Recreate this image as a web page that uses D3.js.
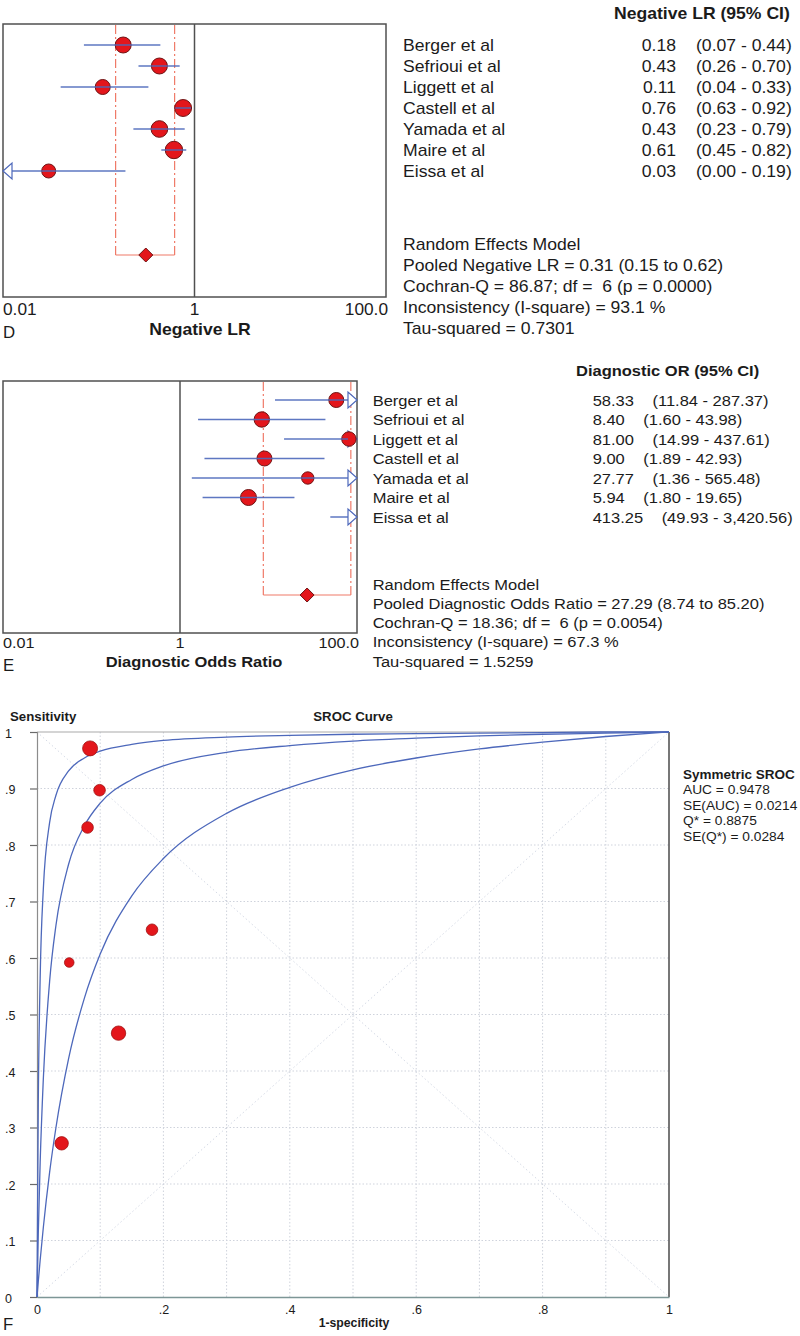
<!DOCTYPE html>
<html lang="en">
<head>
<meta charset="UTF-8">
<script src="https://d3js.org/d3.v7.min.js"></script>
<title>NLR / DOR forest plots and SROC</title>
<style>
  body { margin: 0; background: #fff; }
  svg text { font-family: "Liberation Sans", Arial, sans-serif; fill: #1b1b1b; white-space: pre; }
</style>
</head>
<body>
<svg id="chart" width="800" height="1336"></svg>
<script>
const studies = ["Berger et al", "Sefrioui et al", "Liggett et al", "Castell et al", "Yamada et al", "Maire et al", "Eissa et al"];

// D: negative likelihood ratio
const nlrEst = [0.18, 0.43, 0.11, 0.76, 0.43, 0.61, 0.03];
const nlrLow = [0.07, 0.26, 0.04, 0.63, 0.23, 0.45, 0.00];
const nlrHigh = [0.44, 0.70, 0.33, 0.92, 0.79, 0.82, 0.19];
const nlrWeight = [14.2, 14.2, 12.5, 16.0, 15.4, 16.8, 10.9];
const nlrPooled = [0.31, 0.15, 0.62];
const nlrHet = [86.87, 6, "0.0000", 93.1, 0.7301];

// E: diagnostic odds ratio
const dorEst = [58.33, 8.40, 81.00, 9.00, 27.77, 5.94, 413.25];
const dorLow = [11.84, 1.60, 14.99, 1.89, 1.36, 1.80, 49.93];
const dorHigh = [287.37, 43.98, 437.61, 42.93, 565.48, 19.65, 3420.56];
const dorWeight = [15.6, 16.4, 14.4, 15.6, 10.6, 17.7, 9.7];
const dorPooled = [27.29, 8.74, 85.20];
const dorHet = [18.36, 6, "0.0054", 67.3, 1.5259];

const logTicks = ["0.01", "1", "100.0"];

// F: SROC
const studyFpr = [0.084, 0.099, 0.080, 0.182, 0.051, 0.129, 0.039];
const studySens = [0.971, 0.897, 0.831, 0.650, 0.592, 0.467, 0.272];
const studyWeight = [20.3, 12.1, 12.1, 12.1, 8.3, 18.7, 16.2];
const curveFpr = [0, 0.002, 0.005, 0.01, 0.02, 0.03, 0.05, 0.075, 0.1, 0.15, 0.2, 0.3, 0.4, 0.5, 0.6, 0.7, 0.8, 0.9, 1];
const curveUpper = [0, 0.34, 0.564, 0.722, 0.840, 0.888, 0.931, 0.954, 0.966, 0.978, 0.985, 0.991, 0.994, 0.996, 0.997, 0.998, 0.999, 1.0, 1];
const curveSroc = [0, 0.111, 0.238, 0.386, 0.559, 0.658, 0.766, 0.834, 0.874, 0.916, 0.940, 0.964, 0.976, 0.984, 0.989, 0.993, 0.996, 0.998, 1];
const curveLower = [0, 0.027, 0.065, 0.123, 0.221, 0.300, 0.422, 0.529, 0.607, 0.710, 0.776, 0.856, 0.902, 0.933, 0.954, 0.970, 0.982, 0.992, 1];
const srocStats = ["AUC = 0.9478", "SE(AUC) = 0.0214", "Q* = 0.8875", "SE(Q*) = 0.0284"];

const svg = d3.select("#chart");
const RED = "#e3161b", RED_EDGE = "#6e1414", BLUE = "#4d68bb", SALMON = "#ef7a68";

// text helper, the source figure is slightly stretched horizontally
function label(sel, x, y, str, o = {}) {
	return sel.append("text")
		.attr("transform", `translate(${x},${y}) scale(${o.sx || 1.1},1)`)
		.attr("text-anchor", o.anchor || "start")
		.style("font-size", (o.size || 16) + "px")
		.style("font-weight", o.bold ? "bold" : "normal")
		.text(str);
}

function forest(c) {
	const g = svg.append("g");
	const x = d3.scaleLog().domain([0.01, 100]).range([c.left, c.right]);
	const y = d3.scaleLinear().domain([0, 1]).range([c.row0, c.row0 + c.step]);
	const r = d3.scaleSqrt().domain([0, d3.max(c.weight)]).range([0, c.maxR]);
	const clampX = v => x(Math.min(Math.max(v, 0.01), 100));
	const rows = studies.map((s, i) => ({name: s, est: c.est[i], low: c.low[i], high: c.high[i], w: c.weight[i], i: i}));

	g.append("rect")
		.attr("x", c.left).attr("y", c.top)
		.attr("width", c.right - c.left).attr("height", c.bottom - c.top)
		.attr("fill", "none").attr("stroke", "#505050").attr("stroke-width", 1.5);
	g.append("line")
		.attr("x1", x(1)).attr("x2", x(1)).attr("y1", c.top).attr("y2", c.bottom)
		.attr("stroke", "#505050").attr("stroke-width", 1.5);

	// pooled interval bracket
	const yp = y(10);
	[c.pooled[1], c.pooled[2]].forEach(v => {
		g.append("line")
			.attr("x1", x(v)).attr("x2", x(v)).attr("y1", c.top + 1).attr("y2", yp)
			.attr("stroke", SALMON).attr("stroke-width", 1.2)
			.attr("stroke-dasharray", "9,3,2,3");
	});
	g.append("line")
		.attr("x1", x(c.pooled[1])).attr("x2", x(c.pooled[2])).attr("y1", yp).attr("y2", yp)
		.attr("stroke", SALMON).attr("stroke-width", 1.2);

	// open arrows where the interval leaves the axis
	rows.forEach(d => {
		const yy = y(d.i);
		if (d.low < 0.01) {
			const x0 = x(0.01);
			g.append("path").attr("d", `M${x0},${yy}L${x0 + 9},${yy - 8}L${x0 + 9},${yy + 8}Z`)
				.attr("fill", "#fff").attr("stroke", BLUE).attr("stroke-width", 1.2);
		}
		if (d.high > 100) {
			const x1 = x(100);
			g.append("path").attr("d", `M${x1},${yy}L${x1 - 9},${yy - 8}L${x1 - 9},${yy + 8}Z`)
				.attr("fill", "#fff").attr("stroke", BLUE).attr("stroke-width", 1.2);
		}
	});

	g.selectAll(".pt").data(rows.filter(d => d.est >= 0.01 && d.est <= 100)).join("circle")
		.attr("cx", d => x(d.est)).attr("cy", d => y(d.i)).attr("r", d => r(d.w))
		.attr("fill", RED).attr("stroke", RED_EDGE).attr("stroke-width", 1);

	// whiskers, drawn over the markers
	g.selectAll(".ci").data(rows).join("line")
		.attr("x1", d => clampX(d.low) + (d.low < 0.01 ? 9 : 0))
		.attr("x2", d => clampX(d.high) - (d.high > 100 ? 9 : 0))
		.attr("y1", d => y(d.i)).attr("y2", d => y(d.i))
		.attr("stroke", BLUE).attr("stroke-width", 1.5).attr("stroke-opacity", 0.9);

	const dm = 7, px = x(c.pooled[0]);
	g.append("path")
		.attr("d", `M${px - dm},${yp}L${px},${yp - dm}L${px + dm},${yp}L${px},${yp + dm}Z`)
		.attr("fill", RED).attr("stroke", RED_EDGE).attr("stroke-width", 1);

	// axis labels
	label(g, x(0.01), c.tickY, logTicks[0], {size: c.fs, sx: 1.08});
	label(g, x(1), c.tickY, logTicks[1], {size: c.fs, sx: 1.08, anchor: "middle"});
	label(g, x(100) + 2, c.tickY, logTicks[2], {size: c.fs, sx: 1.08, anchor: "end"});
	label(g, c.titleX, c.titleY, c.title, {size: c.fs, bold: true, anchor: "middle"});
	label(g, 3, c.letterY, c.letter, {size: 16, sx: 1.05});

	// table on the right
	label(g, c.headX, c.headY, c.head, {size: c.fs, bold: true});
	rows.forEach(d => {
		const by = y(d.i) + 5.5;
		label(g, c.nameX, by, d.name, {size: c.fs});
		const v = label(g, c.valX, by, c.fmt(d.est), {size: c.fs, anchor: c.valAnchor});
		const ciText = `(${c.fmt(d.low)} - ${c.fmt(d.high)})`;
		if (c.ciX) {
			label(g, c.ciX, by, ciText, {size: c.fs});
		} else {
			const wv = v.node().getComputedTextLength() * 1.1;
			label(g, c.valX + wv + c.ciGap, by, ciText, {size: c.fs});
		}
	});
	c.stats.forEach((s, k) => label(g, c.nameX, c.stat0 + k * c.statStep, s, {size: c.fs}));
}

forest({
	left: 3, right: 386, top: 24, bottom: 297, row0: 45, step: 21, maxR: 8.7, fs: 16,
	est: nlrEst, low: nlrLow, high: nlrHigh, weight: nlrWeight, pooled: nlrPooled,
	tickY: 315, title: "Negative LR", titleX: 200, titleY: 334.5, letter: "D", letterY: 338,
	head: "Negative LR (95% CI)", headX: 614, headY: 19,
	nameX: 403, valX: 676, valAnchor: "end", ciX: 696,
	fmt: d3.format(".2f"),
	stat0: 250, statStep: 21,
	stats: [
		"Random Effects Model",
		`Pooled Negative LR = ${nlrPooled[0].toFixed(2)} (${nlrPooled[1].toFixed(2)} to ${nlrPooled[2].toFixed(2)})`,
		`Cochran-Q = ${nlrHet[0]}; df =  ${nlrHet[1]} (p = ${nlrHet[2]})`,
		`Inconsistency (I-square) = ${nlrHet[3]} %`,
		`Tau-squared = ${nlrHet[4]}`
	]
});

forest({
	left: 3, right: 357, top: 381, bottom: 633, row0: 400, step: 19.5, maxR: 8, fs: 15,
	est: dorEst, low: dorLow, high: dorHigh, weight: dorWeight, pooled: dorPooled,
	tickY: 648, title: "Diagnostic Odds Ratio", titleX: 194, titleY: 667, letter: "E", letterY: 671,
	head: "Diagnostic OR (95% CI)", headX: 576, headY: 376,
	nameX: 372.7, valX: 592.7, valAnchor: "start", ciGap: 18.5,
	fmt: d3.format(",.2f"),
	stat0: 589.5, statStep: 19.3,
	stats: [
		"Random Effects Model",
		`Pooled Diagnostic Odds Ratio = ${dorPooled[0].toFixed(2)} (${dorPooled[1].toFixed(2)} to ${dorPooled[2].toFixed(2)})`,
		`Cochran-Q = ${dorHet[0]}; df =  ${dorHet[1]} (p = ${dorHet[2]})`,
		`Inconsistency (I-square) = ${dorHet[3]} %`,
		`Tau-squared = ${dorHet[4]}`
	]
});

// ---- F: SROC curve ----
const sx = d3.scaleLinear().domain([0, 1]).range([37, 669]);
const sy = d3.scaleLinear().domain([0, 1]).range([1297, 732]);
const f = svg.append("g");
const tenths = sx.ticks(10);

f.selectAll(".gx").data(tenths.slice(1, -1)).join("line")
	.attr("x1", d => sx(d)).attr("x2", d => sx(d)).attr("y1", sy(0)).attr("y2", sy(1))
	.attr("stroke", "#cfd3dc").attr("stroke-width", 1).attr("stroke-dasharray", "1.5,2");
f.selectAll(".gy").data(tenths.slice(1, -1)).join("line")
	.attr("x1", sx(0)).attr("x2", sx(1)).attr("y1", d => sy(d)).attr("y2", d => sy(d))
	.attr("stroke", "#cfd3dc").attr("stroke-width", 1).attr("stroke-dasharray", "1.5,2");
// chance line and Q* diagonal
[[0, 0, 1, 1], [0, 1, 1, 0]].forEach(p => {
	f.append("line")
		.attr("x1", sx(p[0])).attr("y1", sy(p[1])).attr("x2", sx(p[2])).attr("y2", sy(p[3]))
		.attr("stroke", "#d6dbe6").attr("stroke-width", 1).attr("stroke-dasharray", "1.5,2.5");
});

f.append("line").attr("x1", sx(0)).attr("x2", sx(1)).attr("y1", sy(1)).attr("y2", sy(1))
	.attr("stroke", "#a9a9a9").attr("stroke-width", 1.2);
f.append("line").attr("x1", sx(1)).attr("x2", sx(1)).attr("y1", sy(1)).attr("y2", sy(0))
	.attr("stroke", "#4a4a4a").attr("stroke-width", 1.5);

const fmtTick = d => (d === 0 || d === 1) ? String(d) : d3.format(".1f")(d).slice(1);

const yAx = f.append("g").attr("transform", `translate(${sx(0)},0)`)
	.call(d3.axisLeft(sy).tickValues(tenths).tickSize(7).tickFormat(fmtTick));
yAx.select(".domain").attr("stroke", "#8c8c8c").attr("stroke-width", 1.2);
yAx.selectAll(".tick line").attr("stroke", "#6a6a6a").attr("stroke-width", 1.2);
yAx.selectAll("text").attr("x", 5 - sx(0)).attr("text-anchor", "start")
	.attr("dy", "0.4em").style("font-size", "12.5px").attr("fill", "#222");

const xAx = f.append("g").attr("transform", `translate(0,${sy(0)})`)
	.call(d3.axisBottom(sx).tickValues(tenths.filter((d, i) => i % 2 === 0)).tickSize(0).tickPadding(8).tickFormat(fmtTick));
xAx.select(".domain").attr("stroke", "#7d9696").attr("stroke-width", 1.5);
xAx.selectAll("text").style("font-size", "12.5px").attr("fill", "#222");

const line = d3.line().x(d => sx(d[0])).y(d => sy(d[1])).curve(d3.curveMonotoneX);
[curveUpper, curveSroc, curveLower].forEach(cv => {
	f.append("path")
		.attr("d", line(curveFpr.map((v, i) => [v, cv[i]])))
		.attr("fill", "none").attr("stroke", BLUE).attr("stroke-width", 1.3);
});

const rs = d3.scaleSqrt().domain([0, d3.max(studyWeight)]).range([0, 7.5]);
f.selectAll(".sp").data(studyFpr.map((v, i) => ({x: v, y: studySens[i], w: studyWeight[i]}))).join("circle")
	.attr("cx", d => sx(d.x)).attr("cy", d => sy(d.y)).attr("r", d => rs(d.w))
	.attr("fill", RED).attr("stroke", "#a01010").attr("stroke-width", 0.8);

label(f, 10, 721, "Sensitivity", {size: 13, bold: true, sx: 1.02});
label(f, (sx(0) + sx(1)) / 2, 721, "SROC Curve", {size: 13, bold: true, sx: 1.02, anchor: "middle"});
label(f, 354, 1327, "1-specificity", {size: 12, bold: true, sx: 1.02, anchor: "middle"});
label(f, 3, 1330, "F", {size: 16, sx: 1.05});

label(f, 683, 778.5, "Symmetric SROC", {size: 13, bold: true, sx: 1.04});
srocStats.forEach((s, k) => label(f, 683, 794 + k * 15.6, s, {size: 13, sx: 1.06}));
</script>
</body>
</html>
